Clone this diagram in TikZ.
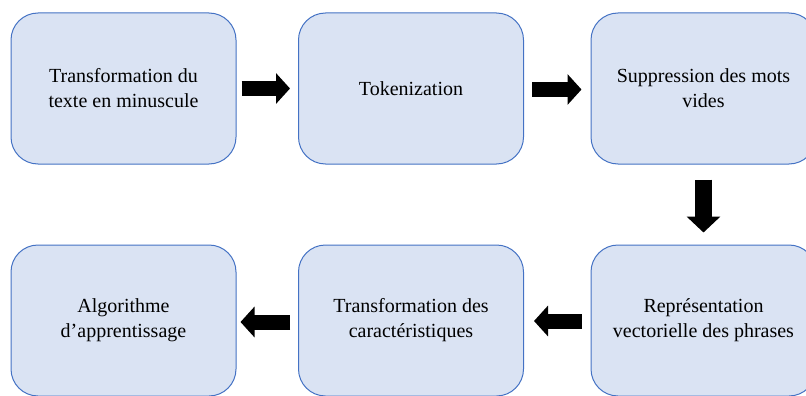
\documentclass[tikz,border=0pt]{standalone}
\usepackage{fontspec}
\setmainfont{Liberation Serif}
\usetikzlibrary{arrows.meta,calc}
\definecolor{boxfill}{HTML}{DAE3F3}
\definecolor{boxline}{HTML}{4472C4}
\tikzset{
  stepbox/.style={draw=boxline, fill=boxfill, line width=1pt, rounded corners=27pt,
    minimum width=225pt, minimum height=151pt, inner sep=0pt, align=center,
    font=\fontsize{20}{25}\selectfont, text=black},
  blockarrow/.style={draw=black, line width=15pt,
    -{Triangle[length=14pt,width=30pt]}},
}
\begin{document}
\begin{tikzpicture}[x=1pt,y=-1pt]
  \useasboundingbox (0,0) rectangle (806,396);
  \clip (0,0) rectangle (806,396);
  % top row, left to right
  \node[stepbox] (b1) at (123.5,88.5) {Transformation du\\texte en minuscule};
  \node[stepbox] (b2) at (411,88.5) {Tokenization};
  \node[stepbox] (b3) at (703.5,88.5) {Suppression des mots\\vides};
  % bottom row, right to left
  \node[stepbox] (b4) at (703.5,320.5) {Représentation\\vectorielle des phrases};
  \node[stepbox] (b5) at (411,320.5) {Transformation des\\caractéristiques};
  \node[stepbox] (b6) at (123.5,320.5) {Algorithme\\d’apprentissage};
  % block arrows between the steps
  \draw[blockarrow] ($(b1.east)+(5,0)$) -- ($(b2.west)+(-8,0)$);
  \draw[blockarrow] ($(b2.east)+(8,1)$) -- ($(b3.west)+(-9,1)$);
  \draw[blockarrow, line width=17pt, -{Triangle[length=16pt,width=33pt]}]
    ($(b3.south)+(0,15)$) -- ($(b4.north)+(0,-12)$);
  \draw[blockarrow] ($(b4.west)+(-9,0.5)$) -- ($(b5.east)+(10,0.5)$);
  \draw[blockarrow] ($(b5.west)+(-8,1.5)$) -- ($(b6.east)+(4,1.5)$);
\end{tikzpicture}
\end{document}
